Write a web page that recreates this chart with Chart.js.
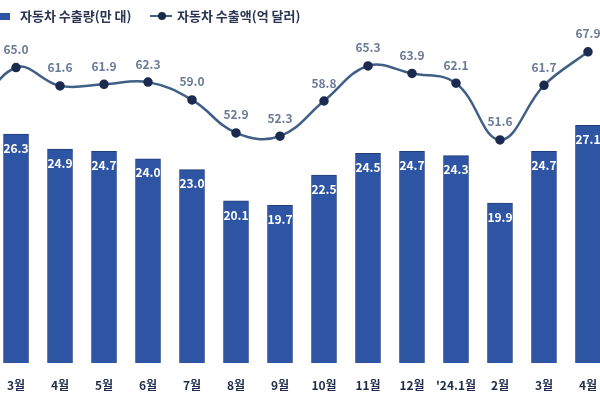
<!DOCTYPE html>
<html>
<head>
<meta charset="utf-8">
<script src="https://cdn.jsdelivr.net/npm/chart.js@4.4.1/dist/chart.umd.min.js"></script>
<style>
html,body{margin:0;padding:0;background:#fff;overflow:hidden}
#wrap{position:relative;width:600px;height:400px}
#legend span{position:absolute;top:6px;font:bold 13px "Noto Sans CJK KR",sans-serif;color:#2b3452;line-height:20px;white-space:nowrap}
#legend i{position:absolute;display:block}
.box{left:0;top:13px;width:10px;height:7px;background:#2d55a3}
.ln{left:150px;top:15px;width:22px;height:2px;background:#3f5f86}
.dot{left:158px;top:12px;width:8px;height:8px;border-radius:50%;background:#1b2a4e}
</style>
</head>
<body>
<div id="wrap">
  <canvas id="c" width="600" height="400"></canvas>
  <div id="legend">
    <i class="box"></i><span style="left:20px">자동차 수출량(만 대)</span>
    <i class="ln"></i><i class="dot"></i><span style="left:177px">자동차 수출액(억 달러)</span>
  </div>
</div>
<script>
// months: first entry is the previous month, which sits just off the left edge
const months = ['2월','3월','4월','5월','6월','7월','8월','9월','10월','11월','12월',"'24.1월",'2월','3월','4월'];
const volume = [null, 26.3, 24.9, 24.7, 24.0, 23.0, 20.1, 19.7, 22.5, 24.5, 24.7, 24.3, 19.9, 24.7, 27.1]; // 만 대
const amount = [55.4, 65.0, 61.6, 61.9, 62.3, 59.0, 52.9, 52.3, 58.8, 65.3, 63.9, 62.1, 51.6, 61.7, 67.9]; // 억 달러

const FONT = '"Noto Sans CJK KR", sans-serif';

// value labels: white inside bar tops, grey above line points
const valueLabels = {
  id: 'valueLabels',
  afterDatasetsDraw(chart) {
    const { ctx, chartArea } = chart;
    ctx.save();
    ctx.textAlign = 'center';
    ctx.textBaseline = 'middle';
    ctx.font = 'bold 12px ' + FONT;
    ctx.fillStyle = '#ffffff';
    chart.getDatasetMeta(1).data.forEach((bar, i) => {
      if (volume[i] == null) return;
      ctx.fillText(volume[i].toFixed(1), bar.x, bar.y + 14);
    });
    ctx.font = '600 12px ' + FONT;
    ctx.fillStyle = '#6b7a97';
    chart.getDatasetMeta(0).data.forEach((pt, i) => {
      if (pt.x < chartArea.left) return;
      ctx.fillText(amount[i].toFixed(1), pt.x, pt.y - 18);
    });
    ctx.restore();
  }
};

new Chart(document.getElementById('c'), {
  type: 'bar',
  data: {
    datasets: [
      {
        type: 'line',
        label: '자동차 수출액(억 달러)',
        data: amount.map((v, i) => ({ x: i, y: v })),
        yAxisID: 'y1',
        borderColor: '#3f5f86',
        borderWidth: 2.5,
        tension: 0.4,
        pointRadius: 3.5,
        pointBackgroundColor: '#1b2a4e',
        pointBorderColor: '#1b2a4e',
        order: 0
      },
      {
        type: 'bar',
        label: '자동차 수출량(만 대)',
        data: volume.map((v, i) => ({ x: i, y: v })),
        yAxisID: 'y',
        backgroundColor: '#2d55a3',
        borderColor: '#1f3c7a',
        borderWidth: 1,
        barThickness: 25,
        order: 1
      }
    ]
  },
  options: {
    responsive: false,
    animation: false,
    layout: { autoPadding: false, padding: { top: 0, left: 0, right: 0, bottom: 8 } },
    plugins: { legend: { display: false }, tooltip: { enabled: false } },
    scales: {
      x: {
        type: 'linear',
        offset: false,
        min: 0.636, max: 14.273,
        grid: { display: false, drawTicks: false },
        border: { display: false },
        ticks: {
          stepSize: 1,
          autoSkip: false,
          maxRotation: 0,
          includeBounds: false,
          padding: 15,
          color: '#1f2b48',
          font: { family: FONT, size: 12, weight: 'bold' },
          callback: v => Number.isInteger(v) ? months[v] : ''
        },
        // the picture is cropped at both sides, so no room is kept for edge labels
        afterFit: s => {
          s.paddingLeft = 0; s.paddingRight = 0;
          s.paddingTop = 0; s.paddingBottom = 0;
          s.height = 29;
        }
      },
      y: { display: false, min: 5.1, max: 38.7 },
      y1: { display: false, min: 10.3, max: 77.5 }
    }
  },
  plugins: [valueLabels]
});
</script>
</body>
</html>
